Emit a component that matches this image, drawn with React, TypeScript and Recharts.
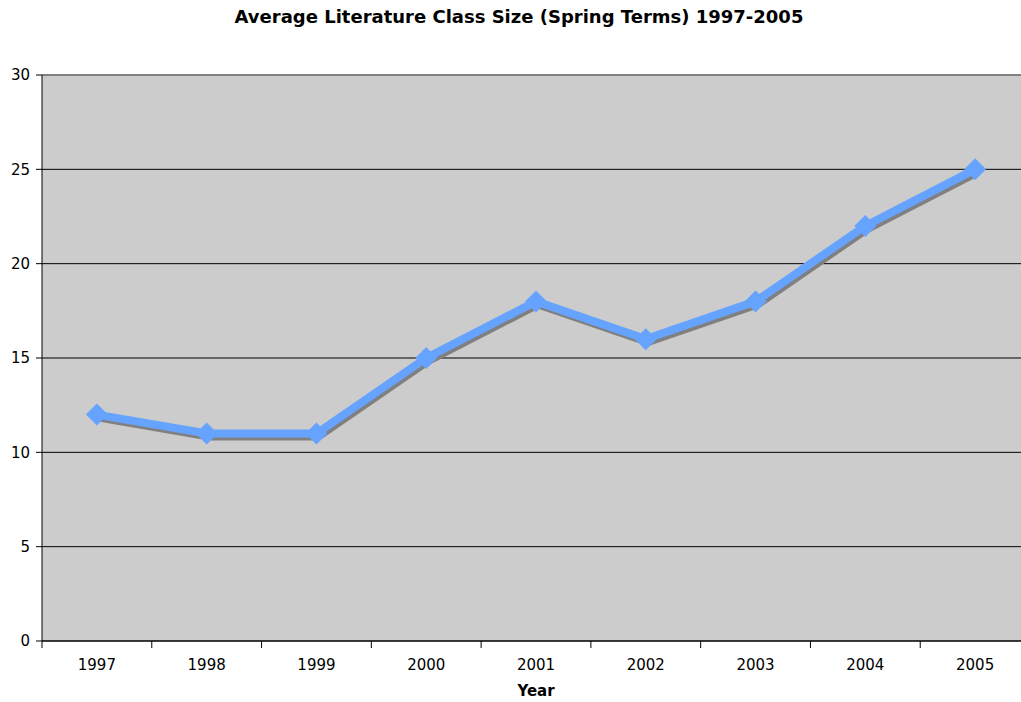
import { CartesianGrid, Line, LineChart, ReferenceLine, XAxis, YAxis } from "recharts";

const years = ["1997", "1998", "1999", "2000", "2001", "2002", "2003", "2004", "2005"];
const classSize = [12, 11, 11, 15, 18, 16, 18, 22, 25];
const yTicks = [0, 5, 10, 15, 20, 25, 30];

const data = years.map((y, i) => ({ year: y, size: classSize[i] }));

const CHART_W = 1040;
const PLOT_LEFT = 42;
const PLOT_RIGHT_MARGIN = 10;
const BAND = (CHART_W - PLOT_LEFT - PLOT_RIGHT_MARGIN) / years.length;

const font = "Verdana, 'DejaVu Sans', sans-serif";

function YearTick(props: any) {
  const { x, y, payload } = props;
  const left = x - BAND / 2;
  return (
    <g>
      <line x1={left} x2={left} y1={y - 8} y2={y - 1} stroke="#000" />
      <text x={x} y={y + 21} textAnchor="middle" fontSize={15} fontFamily={font} fill="#000">
        {payload.value}
      </text>
    </g>
  );
}

function Diamond(props: any) {
  const { cx, cy } = props;
  if (cx == null || cy == null) return null;
  const r = 11;
  return (
    <polygon
      points={`${cx},${cy - r} ${cx + r},${cy} ${cx},${cy + r} ${cx - r},${cy}`}
      fill="#66a3ff"
      stroke="none"
    />
  );
}

export default function App() {
  return (
    <div style={{ position: "absolute", left: 0, top: 0, width: 1021, height: 702, overflow: "hidden", background: "#fff" }}>
      <style>{`.shadow-line { filter: drop-shadow(2px 3px 0 #808080); }`}</style>
      <div
        style={{
          position: "absolute",
          top: 6,
          left: 0,
          width: 1038,
          textAlign: "center",
          fontFamily: font,
          fontWeight: "bold",
          fontSize: 18,
        }}
      >
        Average Literature Class Size (Spring Terms) 1997-2005
      </div>
      <LineChart
        width={CHART_W}
        height={702}
        data={data}
        margin={{ top: 75, right: PLOT_RIGHT_MARGIN, bottom: 0, left: 0 }}
      >
        <CartesianGrid fill="#cccccc" stroke="#000" vertical={false} />
        <ReferenceLine y={30} stroke="#808080" strokeWidth={2} />
        <XAxis
          dataKey="year"
          height={61}
          padding={{ left: BAND / 2, right: BAND / 2 }}
          axisLine={{ stroke: "#000" }}
          tickLine={false}
          tick={<YearTick />}
          interval={0}
        />
        <YAxis
          width={PLOT_LEFT}
          domain={[0, 30]}
          ticks={yTicks}
          axisLine={{ stroke: "#000" }}
          tickLine={{ stroke: "#000" }}
          tickSize={6}
          tickMargin={6}
          tick={{ fill: "#000", fontSize: 15, fontFamily: font }}
          interval={0}
        />
        <Line
          className="shadow-line"
          dataKey="size"
          type="linear"
          stroke="#66a3ff"
          strokeWidth={8}
          dot={<Diamond />}
          activeDot={false}
          isAnimationActive={false}
        />
      </LineChart>
      <div
        style={{
          position: "absolute",
          top: 682,
          left: 0,
          width: 1072,
          textAlign: "center",
          fontFamily: font,
          fontWeight: "bold",
          fontSize: 15,
        }}
      >
        Year
      </div>
    </div>
  );
}
